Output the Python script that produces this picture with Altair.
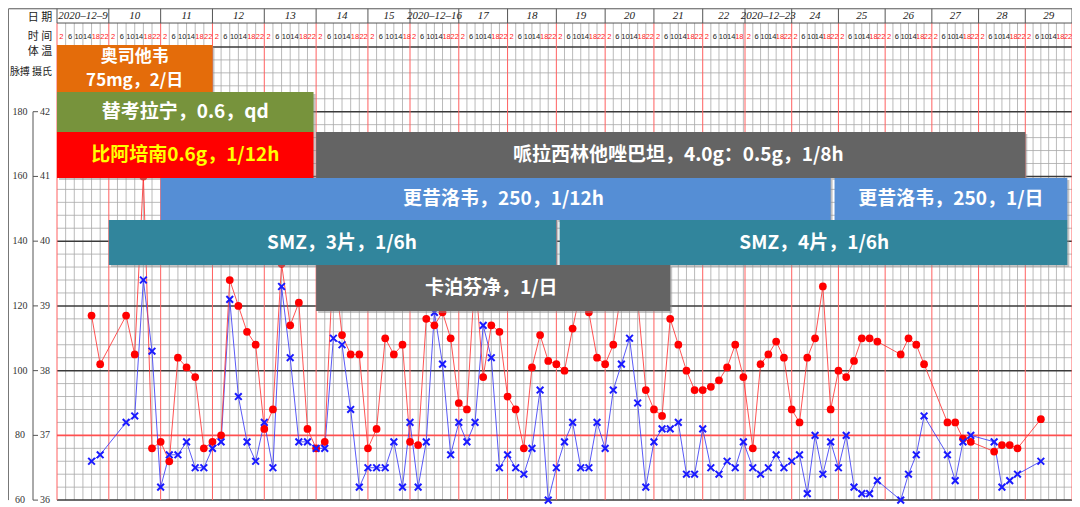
import altair as alt
import pandas as pd

# ---------------- data ----------------
DAY_LABELS = ["2020–12–9", "10", "11", "12", "13", "14", "15",
              "2020–12–16", "17", "18", "19", "20", "21", "22",
              "2020–12–23", "24", "25", "26", "27", "28", "29"]
SLOT_HOURS = [2, 6, 10, 14, 18, 22]
# three weekly sheets stitched together; visible span of each (slot units)
SHEET_START = [0, 42, 84]
SHEET_END = [40.87, 83.2, 126]

# slot index counted from 2020-12-9 02:00, six slots per day
SLOT = [4, 5, 8, 9, 10, 11, 12, 13, 14, 15, 16, 17, 18, 19, 20, 21, 22, 23, 24, 25, 26, 27, 28, 29, 30,
        31, 32, 33, 34, 35, 36, 37, 38, 39, 40,
        42, 43, 44, 45, 46, 47, 48, 49, 50, 51, 52, 53, 54, 55, 56, 57, 58, 59, 60, 61, 62, 63, 64, 65,
        66, 67, 68, 69, 70, 71, 72, 73, 74, 75, 76, 77, 78, 79, 80, 81, 82, 83,
        85, 86, 87, 88, 89, 90, 91, 92, 93, 94, 95, 96, 97, 98, 99, 100, 101, 104, 105, 106, 107,
        110, 111, 112, 113, 116, 117, 118, 119, 122]
PULSE_BPM = [117, 102, 117, 105, 160, 76, 78, 72, 104, 101, 98, 76, 78, 80, 128, 120, 112, 108, 82, 88,
             133, 114, 121, 82, 76, 78, 135, 111, 105, 105, 76, 82, 110, 105, 108,
             78, 77, 116, 114, 118, 110, 90, 88, 130, 98, 114, 112, 92, 88, 76, 101, 111, 103, 102, 100,
             113, 125, 118, 104, 102, 108, 125, 130, 122, 94, 88, 86, 116, 108, 100, 94, 94, 95, 97, 101,
             108, 98,
             76, 102, 105, 109, 104, 88, 84, 104, 110, 126, 88, 100, 98, 103, 110, 110, 109, 105, 110,
             108, 102, 84, 84, 79, 78, 75, 77, 77, 76, 85]
TEMP_C = [36.6, 36.7, 37.2, 37.3, 39.4, 38.3, 36.2, 36.7, 36.7, 36.9, 36.5, 36.5, 36.8, 36.9, 39.1, 37.6,
          36.9, 36.6, 37.2, 36.5, 39.3, 38.2, 36.9, 36.9, 36.8, 36.8, 38.5, 38.4, 37.4, 36.2, 36.5, 36.5,
          36.5, 36.9, 36.2,
          37.2, 36.2, 36.9, 38.9, 38.1, 36.7, 37.2, 36.9, 37.2, 38.7, 38.2, 36.5, 36.7, 36.5, 36.4, 36.8,
          37.7, 36.0, 36.5, 36.9, 37.2, 36.5, 36.5, 37.2, 36.8, 37.7, 38.1, 38.5, 37.5, 36.2, 36.9, 37.1,
          37.1, 37.2, 36.4, 36.4, 37.1, 36.5, 36.4, 36.6, 36.5, 36.9,
          36.5, 36.4, 36.5, 36.7, 36.5, 36.6, 36.7, 36.1, 37.0, 36.4, 36.9, 36.5, 37.0, 36.2, 36.1, 36.1,
          36.3, 36.0, 36.4, 36.7, 37.3, 36.7, 36.3, 36.9, 37.0, 36.9, 36.2, 36.3, 36.4, 36.6]

DRUG = ["奥司他韦", "替考拉宁", "比阿培南", "哌拉西林他唑巴坦", "更昔洛韦", "更昔洛韦",
        "SMZ", "SMZ", "卡泊芬净"]
DRUG_LABEL = ["奥司他韦\n75mg，2/日", "替考拉宁，0.6，qd", "比阿培南0.6g，1/12h",
              "哌拉西林他唑巴坦，4.0g：0.5g，1/8h", "更昔洛韦，250，1/12h", "更昔洛韦，250，1/日",
              "SMZ，3片，1/6h", "SMZ，4片，1/6h", "卡泊芬净，1/日"]
DRUG_START = [0, 0, 0, 30, 12, 95.5, 6, 60.4, 30]
DRUG_END = [18, 29.7, 29.7, 120, 95, 125.4, 60, 125.4, 74]

TEMP_TICKS = [36, 37, 38, 39, 40, 41, 42]
PULSE_TICKS = [60, 80, 100, 120, 140, 160, 180]

# ---------------- layout / style ----------------
LANE = {"奥司他韦": 0, "替考拉宁": 1, "比阿培南": 2, "哌拉西林他唑巴坦": 2,
        "更昔洛韦": 3, "SMZ": 4, "卡泊芬净": 5}
FILL = {"奥司他韦": "#E46C0A", "替考拉宁": "#77933C", "比阿培南": "#FF0000",
        "哌拉西林他唑巴坦": "#646464", "更昔洛韦": "#558ED5", "SMZ": "#31859C", "卡泊芬净": "#646464"}
INK = {k: ("#FFFF00" if k == "比阿培南" else "#FFFFFF") for k in FILL}

W, H = 1015, 491
T_TOP, T_DATE, T_TIME = 43.59, 43.37, 43.0
XS = alt.Scale(domain=[0, 40.87, 42, 83.2, 84, 126], range=[0, 353, 353, 688, 688, W],
               nice=False, zero=False)
YS = alt.Scale(domain=[36.017, 43.602], nice=False, zero=False)
LS = alt.Scale(domain=[0, 1, 2, 3, 4, 5, 6], range=[37, 84, 124, 170, 212, 257, 303],
               nice=False, zero=False)


def X(f):
    return alt.X(f, type="quantitative", scale=XS, axis=None)


def Y(f):
    return alt.Y(f, type="quantitative", scale=YS, axis=None)


layers = []

# horizontal grid
hg = pd.DataFrame({"t": [round(36 + 0.2 * i, 1) for i in range(36)]})
hg["a"] = 0
hg["b"] = 126
minor = hg[(hg.t * 10).round() % 10 != 0]
major = hg[((hg.t * 10).round() % 10 == 0) & (hg.t != 37)]
red37 = hg[hg.t == 37]
layers.append(alt.Chart(minor).mark_rule(color="#a8a8a8", strokeWidth=0.8)
              .encode(x=X("a"), x2="b", y=Y("t")))

# vertical grid
slots = []
for s, e in zip(SHEET_START, SHEET_END):
    slots += list(range(s, int(e) + 1))
vg = pd.DataFrame({"u": slots})
vg["lo"] = 36
vg["hi"] = T_DATE
vslot = vg[vg.u % 6 != 0]
vday = vg[vg.u % 6 == 0]
layers.append(alt.Chart(vslot).mark_rule(color="#a8a8a8", strokeWidth=0.8)
              .encode(x=X("u"), y=Y("lo"), y2="hi"))
layers.append(alt.Chart(major).mark_rule(color="#3a3a3a", strokeWidth=1.5)
              .encode(x=X("a"), x2="b", y=Y("t")))
layers.append(alt.Chart(vday).mark_rule(color="#ff6060", strokeWidth=1)
              .encode(x=X("u"), y=Y("lo"), y2="hi"))
layers.append(alt.Chart(red37).mark_rule(color="#ff5050", strokeWidth=1.6)
              .encode(x=X("a"), x2="b", y=Y("t")))

# header frame
dsep = pd.DataFrame({"u": list(range(0, 127, 6)), "lo": T_DATE, "hi": T_TOP})
layers.append(alt.Chart(dsep).mark_rule(color="#555555", strokeWidth=1)
              .encode(x=X("u"), y=Y("lo"), y2="hi"))
layers.append(alt.Chart(pd.DataFrame({"t": [T_DATE], "a": [0], "b": [126]}))
              .mark_rule(color="#555555", strokeWidth=1).encode(x=X("a"), x2="b", y=Y("t")))
layers.append(alt.Chart(pd.DataFrame({"t": [T_TOP]})).mark_rule(color="#555555", strokeWidth=1)
              .encode(x=alt.value(-48.5), x2=alt.value(W), y=Y("t")))
layers.append(alt.Chart(pd.DataFrame({"lo": [36], "hi": [T_TOP]})).mark_rule(color="#777777", strokeWidth=1)
              .encode(x=alt.value(-48.5), y=Y("lo"), y2="hi"))

# left scale (temperature / pulse)
layers.append(alt.Chart(pd.DataFrame({"lo": [36], "hi": [42]})).mark_rule(color="#555555", strokeWidth=1)
              .encode(x=alt.value(-24), y=Y("lo"), y2="hi"))
tt = pd.DataFrame({"t": TEMP_TICKS})
layers.append(alt.Chart(tt).mark_rule(color="#555555", strokeWidth=1)
              .encode(x=alt.value(-24), x2=alt.value(-19), y=Y("t")))
layers.append(alt.Chart(tt).mark_text(align="left", baseline="middle", font="Liberation Serif",
                                      fontSize=10, color="#333333")
              .encode(x=alt.value(-17), y=Y("t"), text="t:Q"))
pt = pd.DataFrame({"p": PULSE_TICKS})
layers.append(alt.Chart(pt).transform_calculate(t="36 + (datum.p - 60) / 20")
              .mark_text(align="center", baseline="middle", font="Liberation Serif",
                         fontSize=10, color="#333333")
              .encode(x=alt.value(-37), y=Y("t"), text="p:Q"))

# left header captions
for txt, yy, xx, fs in [("日 期", 9.5, -17, 11), ("时 间", 29, -17, 11),
                        ("体 温", 44, -17, 11), ("脉搏 摄氏", 64, -26, 10)]:
    layers.append(alt.Chart(pd.DataFrame({"s": [txt]}))
                  .mark_text(align="center", baseline="middle", font="Noto Sans CJK SC",
                             fontSize=fs, color="#222222")
                  .encode(x=alt.value(xx), y=alt.value(yy), text="s:N"))

# date labels
dd = pd.DataFrame({"label": DAY_LABELS, "d": range(len(DAY_LABELS))})
dd["s"] = dd.d * 6
dd["e"] = [min(6 * d + 6, [e for s, e in zip(SHEET_START, SHEET_END) if s <= 6 * d][-1])
           for d in dd.d]
layers.append(alt.Chart(dd).transform_calculate(m="(datum.s + datum.e) / 2")
              .mark_text(align="center", baseline="middle", font="Liberation Serif",
                         fontStyle="italic", fontSize=11, color="#222222")
              .encode(x=X("m"), y=alt.value(7.5), text="label:N"))

# time-slot labels
cells = []
for s, e in zip(SHEET_START, SHEET_END):
    cells += [u for u in range(s, int(e) + 1) if u + 0.5 < e]
tc = pd.DataFrame({"u": cells})
tc["hour"] = [SLOT_HOURS[u % 6] for u in cells]
for sel, col in [(tc.hour.isin([2, 18, 22]), "#ff2020"), (~tc.hour.isin([2, 18, 22]), "#222222")]:
    layers.append(alt.Chart(tc[sel]).transform_calculate(m="datum.u + 0.5")
                  .mark_text(align="center", baseline="middle", font="Liberation Sans",
                             fontSize=7.5, color=col)
                  .encode(x=X("m"), y=alt.value(28.5), text="hour:N"))

# data series
vit = pd.DataFrame({"u": SLOT, "bpm": PULSE_BPM, "temp": TEMP_C})
pulse = alt.Chart(vit).transform_calculate(t="36 + (datum.bpm - 60) / 20")
layers.append(alt.Chart(vit).mark_line(color="#3c3cf5", strokeWidth=1, opacity=0.85)
              .encode(x=X("u"), y=Y("temp"), order="u:Q"))
layers.append(pulse.mark_line(color="#ff3535", strokeWidth=1, opacity=0.85)
              .encode(x=X("u"), y=Y("t"), order="u:Q"))
layers.append(pulse.mark_point(shape="circle", filled=True, size=60, color="#ff0000", opacity=1)
              .encode(x=X("u"), y=Y("t")))
layers.append(alt.Chart(vit).mark_point(shape="M-1,-1L1,1M1,-1L-1,1", filled=False, size=45,
                                        strokeWidth=2, color="#1a1aff", opacity=1)
              .encode(x=X("u"), y=Y("temp")))

# drug bars
dr = pd.DataFrame({"drug": DRUG, "label": DRUG_LABEL, "start": DRUG_START, "end": DRUG_END})
dr["lane"] = dr.drug.map(LANE)
drugs = alt.Chart(dr).transform_calculate(lane2="datum.lane + 1", lmid="datum.lane + 0.5",
                                          mid="(datum.start + datum.end) / 2")
layers.append(drugs.mark_rect(xOffset=2, yOffset=2, x2Offset=2, y2Offset=2, color="#8c8c8c", opacity=0.5)
              .encode(x=X("start"), x2="end", y=alt.Y("lane:Q", scale=LS, axis=None), y2="lane2:Q"))
layers.append(drugs.mark_rect()
              .encode(x=X("start"), x2="end", y=alt.Y("lane:Q", scale=LS, axis=None), y2="lane2:Q",
                      color=alt.Color("drug:N", scale=alt.Scale(domain=list(FILL), range=list(FILL.values())),
                                      legend=None)))

# bar captions: one text per line of each label
rows = []
for drug, label, s, e in zip(DRUG, DRUG_LABEL, DRUG_START, DRUG_END):
    parts = label.split("\n")
    for i, p in enumerate(parts):
        rows.append({"drug": drug, "line": p, "start": s, "end": e, "lane": LANE[drug],
                     "k": i - (len(parts) - 1) / 2, "n": len(parts)})
cap = pd.DataFrame(rows)
ink_scale = alt.Scale(domain=list(INK), range=list(INK.values()))
for (k, n), g in cap.groupby(["k", "n"]):
    fs = 19 if n == 1 else 17
    layers.append(alt.Chart(g).transform_calculate(lmid="datum.lane + 0.5",
                                                   mid="(datum.start + datum.end) / 2")
                  .mark_text(align="center", baseline="middle", font="Noto Sans CJK SC", fontSize=fs,
                             fontWeight="bold", dy=float(k) * 24)
                  .encode(x=X("mid"), y=alt.Y("lmid:Q", scale=LS, axis=None), text="line:N",
                          color=alt.Color("drug:N", scale=ink_scale, legend=None)))

chart = (alt.layer(*layers)
         .resolve_scale(y="independent", color="independent")
         .properties(width=W, height=H, padding={"left": 49, "top": 0, "right": 0, "bottom": 6},
                     autosize=alt.AutoSizeParams(type="none"), background="white")
         .configure_view(stroke="transparent"))

chart.save("out.html", embed_options={"renderer": "svg", "actions": False})
